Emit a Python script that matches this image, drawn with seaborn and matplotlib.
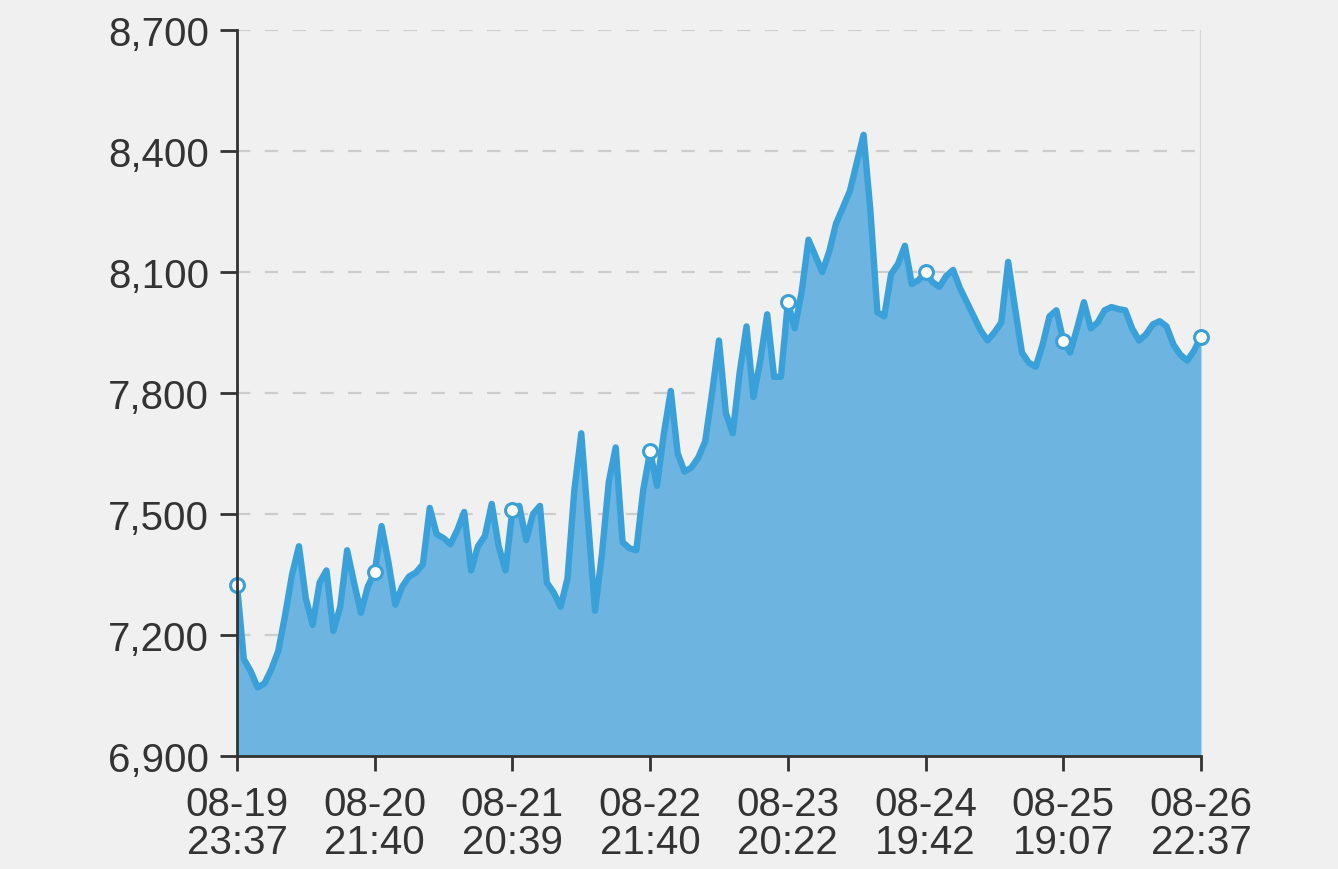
import matplotlib

matplotlib.use("Agg")
import matplotlib.pyplot as plt
import numpy as np
import pandas as pd
import seaborn as sns

# tick labels shown on the category axis (every 20th point)
tick_labels = [
    "08-19\n23:37",
    "08-20\n21:40",
    "08-21\n20:39",
    "08-22\n21:40",
    "08-23\n20:22",
    "08-24\n19:42",
    "08-25\n19:07",
    "08-26\n22:37",
]
label_step = 20

# values, one list per day-interval
day1 = [7325, 7140, 7110, 7070, 7080, 7115, 7160, 7250, 7350, 7420,
        7290, 7225, 7330, 7360, 7210, 7270, 7410, 7330, 7255, 7320]
day2 = [7355, 7470, 7380, 7275, 7320, 7345, 7355, 7375, 7515, 7450,
        7440, 7425, 7460, 7505, 7360, 7420, 7445, 7525, 7420, 7360]
day3 = [7510, 7520, 7435, 7500, 7520, 7330, 7305, 7270, 7340, 7560,
        7700, 7480, 7260, 7400, 7580, 7665, 7430, 7415, 7410, 7560]
day4 = [7655, 7570, 7700, 7805, 7650, 7605, 7615, 7640, 7680, 7800,
        7930, 7750, 7700, 7850, 7965, 7790, 7880, 7995, 7840, 7840]
day5 = [8025, 7960, 8050, 8180, 8140, 8100, 8150, 8220, 8260, 8300,
        8370, 8440, 8250, 8000, 7990, 8095, 8120, 8165, 8070, 8080]
day6 = [8100, 8075, 8063, 8090, 8105, 8060, 8025, 7990, 7955, 7930,
        7950, 7975, 8125, 8010, 7900, 7875, 7865, 7920, 7990, 8005]
day7 = [7930, 7900, 7960, 8025, 7960, 7975, 8005, 8013, 8008, 8005,
        7960, 7930, 7945, 7970, 7978, 7965, 7920, 7895, 7880, 7905, 7940]

values = day1 + day2 + day3 + day4 + day5 + day6 + day7
df = pd.DataFrame({"idx": np.arange(len(values)), "value": values})

LINE = "#3aa0da"
FILL = "#6db5e0"
BG = "#f0f0f0"
TEXT = "#333333"

sns.set_style("white")
plt.rcParams["font.family"] = ["Liberation Sans", "DejaVu Sans"]

fig = plt.figure(figsize=(13.38, 8.70), dpi=100, facecolor=BG)
ax = fig.add_axes([0.1771, 0.1299, 0.8976 - 0.1771, 0.9644 - 0.1299])
ax.set_facecolor(BG)

ymin, ymax = 6900, 8700
ax.fill_between(df["idx"], df["value"], ymin, color=FILL, linewidth=0, zorder=2)
sns.lineplot(data=df, x="idx", y="value", ax=ax, color=LINE, linewidth=4.6,
             solid_joinstyle="round", solid_capstyle="round", zorder=3)
marks = df.iloc[::label_step]
ax.scatter(marks["idx"], marks["value"], s=100, facecolor="white",
           edgecolor=LINE, linewidth=2.2, zorder=4, clip_on=False)

ax.set_xlim(0, len(values) - 1)
ax.set_ylim(ymin, ymax)
yticks = np.arange(ymin, ymax + 1, 300)
ax.set_yticks(yticks)
ax.set_yticklabels([f"{v:,}" for v in yticks])
ax.set_xticks(np.arange(0, len(values), label_step))
ax.set_xticklabels(tick_labels, linespacing=1.0)
ax.set_xlabel("")
ax.set_ylabel("")

for y in yticks[1:]:
    ax.axhline(y, color="#cccccc", linewidth=1.6, dashes=(6, 6.5), zorder=1)
ax.axvline(len(values) - 1, color="#d6d6d6", linewidth=1.6, zorder=1)

for side in ["top", "right"]:
    ax.spines[side].set_visible(False)
for side in ["left", "bottom"]:
    ax.spines[side].set_color(TEXT)
    ax.spines[side].set_linewidth(2)
    ax.spines[side].set_zorder(5)

ax.tick_params(axis="both", colors=TEXT, labelsize=29, width=2,
               direction="out", bottom=True, left=True)
ax.tick_params(axis="y", length=12, pad=8)
ax.tick_params(axis="x", length=11, pad=10)

fig.savefig("out.png", dpi=100, facecolor=BG)
